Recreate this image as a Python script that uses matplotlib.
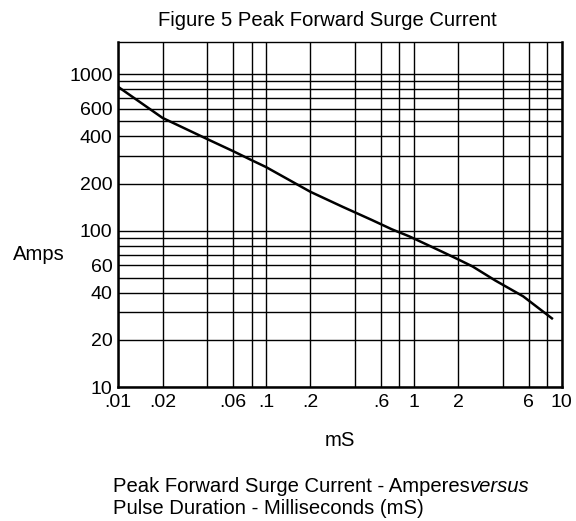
import matplotlib.pyplot as plt

plt.rcParams['font.family'] = ['Liberation Sans', 'DejaVu Sans']

# curve (pulse duration in mS, peak current in A)
pulse_ms = [0.01, 0.02, 0.04, 0.06, 0.08, 0.1, 0.2, 0.33, 0.52, 0.71, 0.93,
            1.57, 2.03, 2.5, 3.56, 5.5, 8.6]
amps = [830, 525, 385, 322, 282, 255, 177, 142, 117, 102, 92,
        73, 65, 59, 48, 38, 27.5]

x_grid = [0.01, 0.02, 0.04, 0.06, 0.08, 0.1, 0.2, 0.4, 0.6, 0.8, 1, 2, 4, 6, 8, 10]
x_labels = {0.01: '.01', 0.02: '.02', 0.06: '.06', 0.1: '.1', 0.2: '.2',
            0.6: '.6', 1: '1', 2: '2', 6: '6', 10: '10'}
y_grid = [10, 20, 30, 40, 50, 60, 70, 80, 90, 100,
          200, 300, 400, 500, 600, 700, 800, 900, 1000]
y_labels = {10: '10', 20: '20', 40: '40', 60: '60', 100: '100',
            200: '200', 400: '400', 600: '600', 1000: '1000'}

FS = 14.6

fig = plt.figure(figsize=(5.76, 5.21), dpi=100)
ax = fig.add_axes([0.205, 0.257, 0.77, 0.662])

ax.set_xscale('log')
ax.set_yscale('log')
ax.set_xlim(0.01, 10)
ax.set_ylim(10, 1600)

ax.set_xticks(x_grid)
ax.set_xticklabels([x_labels.get(v, '') for v in x_grid])
ax.set_yticks(y_grid)
ax.set_yticklabels([y_labels.get(v, '') for v in y_grid])
ax.minorticks_off()
ax.tick_params(length=0, labelsize=14)
ax.tick_params(axis='x', pad=5)
ax.tick_params(axis='y', pad=4)
ax.grid(True, color='black', linewidth=1.0)

ax.plot(pulse_ms, amps, color='black', linewidth=1.8)

for side in ['left', 'bottom', 'right']:
    ax.spines[side].set_linewidth(1.8)
ax.spines['top'].set_linewidth(1.0)

fig.text(327 / 576, 1 - 21 / 521, 'Figure 5 Peak Forward Surge Current',
         fontsize=FS, ha='center', va='center')
fig.text(39 / 576, 1 - 254 / 521, 'Amps', fontsize=FS, ha='center', va='center')
fig.text(340 / 576, 1 - 440 / 521, 'mS', fontsize=FS, ha='center', va='center')

t1 = fig.text(113 / 576, 1 - 492 / 521, 'Peak Forward Surge Current - Amperes',
              fontsize=FS, ha='left', va='baseline')
ax.annotate('versus', xy=(1, 0), xycoords=t1, fontsize=FS, style='italic',
            ha='left', va='bottom')
fig.text(113 / 576, 1 - 514 / 521, 'Pulse Duration - Milliseconds (mS)',
         fontsize=FS, ha='left', va='baseline')

fig.savefig('out.png', dpi=100)
